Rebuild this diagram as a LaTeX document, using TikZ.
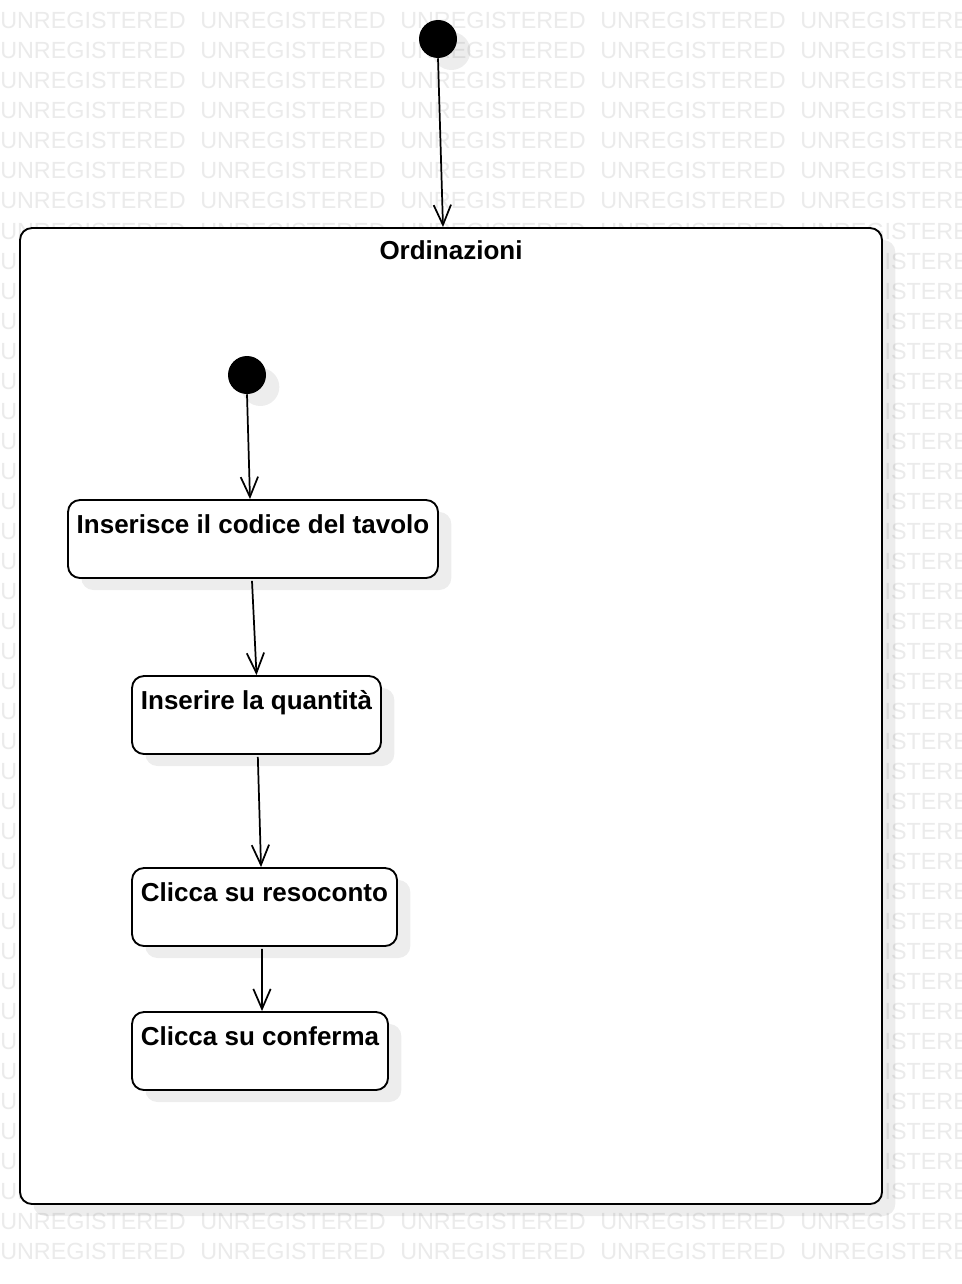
\documentclass[tikz,border=0pt]{standalone}
\usepackage{fontspec}
\setmainfont{Liberation Sans}
\usetikzlibrary{arrows.meta,shadows}
\definecolor{wmark}{HTML}{EBEBEB}
\tikzset{
  wm/.style={anchor=base west, inner sep=0pt, text=wmark, font=\fontsize{17.5pt}{18pt}\selectfont},
  shad/.style={drop shadow={shadow xshift=10pt, shadow yshift=-9pt, fill=black, opacity=0.07}},
  statebox/.style={draw=black, line width=1.4pt, fill=white, rounded corners=9pt, inner sep=0pt, shad},
  initial/.style={circle, fill=black, minimum size=28.5pt, inner sep=0pt, shad},
  lbl/.style={anchor=base, inner sep=0pt, font=\bfseries\fontsize{19.5pt}{22pt}\selectfont},
  trans/.style={draw=black, line width=1.3pt, -{Straight Barb[length=15pt, width=13pt, line width=1.3pt]}}
}
\begin{document}
\begin{tikzpicture}[x=0.75pt,y=-0.75pt]
\useasboundingbox (0,0) rectangle (962,1284);
\clip (0,0) rectangle (962,1284);
\fill[white] (0,0) rectangle (962,1284);
% watermark
\foreach \k in {0,...,41}{
  \foreach \c in {0,200,400,600,800}{
    \node[wm] at (\c, 29+30*\k) {UNREGISTERED};
  }
}
% container
\node[statebox, minimum width=646.5pt, minimum height=732pt] (cont) at (451,716) {};
\node[lbl] (contlbl) at ([yshift=-24.5pt]cont.north) {Ordinazioni};
% initial states
\node[initial] (init1) at (438,39) {};
\node[initial] (init2) at (247,375) {};
% activity boxes
\node[statebox, minimum width=277.5pt, minimum height=58.5pt] (b1) at (253,539) {};
\node[lbl] (b1lbl) at ([yshift=-25.5pt]b1.north) {Inserisce il codice del tavolo};
\node[statebox, minimum width=186.75pt, minimum height=58.5pt] (b2) at (256.5,715) {};
\node[lbl] (b2lbl) at ([yshift=-25.5pt]b2.north) {Inserire la quantità};
\node[statebox, minimum width=198.75pt, minimum height=58.5pt] (b3) at (264.5,907) {};
\node[lbl] (b3lbl) at ([yshift=-25.5pt]b3.north) {Clicca su resoconto};
\node[statebox, minimum width=192pt, minimum height=58.5pt] (b4) at (260,1051) {};
\node[lbl] (b4lbl) at ([yshift=-25.5pt]b4.north) {Clicca su conferma};
% transitions
\draw[trans] (init1.south) -- ([xshift=-6pt]cont.north);
\draw[trans] (init2.south) -- ([xshift=-2.25pt]b1.north);
\draw[trans] ([xshift=-0.75pt,yshift=-1.5pt]b1.south) -- (b2.north);
\draw[trans] ([xshift=1pt,yshift=-1.5pt]b2.south) -- ([xshift=-2.6pt]b3.north);
\draw[trans] ([xshift=-1.9pt,yshift=-1.5pt]b3.south) -- ([xshift=1.5pt]b4.north);
\end{tikzpicture}
\end{document}
